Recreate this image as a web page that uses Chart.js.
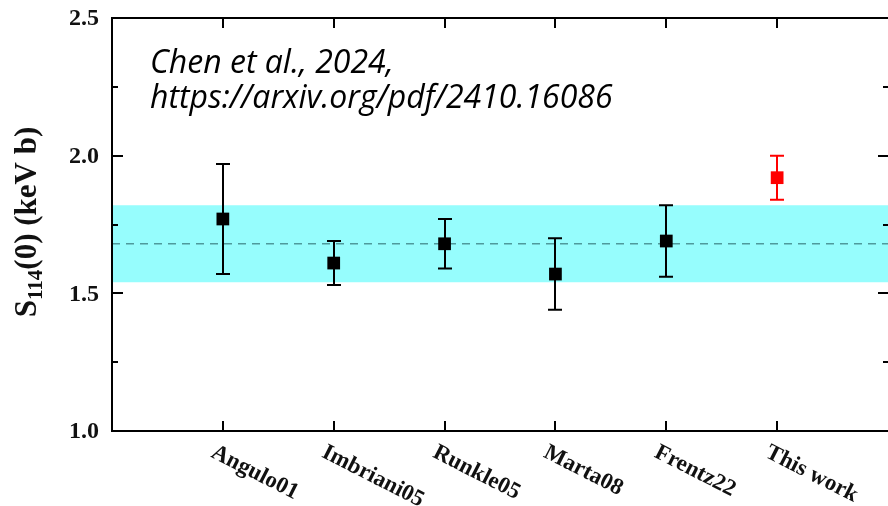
<!DOCTYPE html>
<html>
<head>
<meta charset="utf-8">
<script src="https://cdn.jsdelivr.net/npm/chart.js@4.4.1/dist/chart.umd.min.js"></script>
<style>
  html, body { margin: 0; padding: 0; background: #fff; }
  canvas { display: block; }
</style>
</head>
<body>
<canvas id="c" width="888" height="506"></canvas>
<script>
// Measurements of the astrophysical S-factor S114(0)
const categories = ['Angulo01', 'Imbriani05', 'Runkle05', 'Marta08', 'Frentz22', 'This work'];
const sValues    = [1.77, 1.61, 1.68, 1.57, 1.69, 1.92];
const errLow     = [1.57, 1.53, 1.59, 1.44, 1.56, 1.84];
const errHigh    = [1.97, 1.69, 1.77, 1.70, 1.82, 2.00];
const pointColors = ['#000000', '#000000', '#000000', '#000000', '#000000', '#ff0000'];

// Weighted mean and its uncertainty band
const bandLow = 1.54;
const bandHigh = 1.82;
const meanValue = 1.68;

// Axis ticks
const yMajorTicks = [1.0, 1.5, 2.0, 2.5];
const yMinorTicks = [1.25, 1.75, 2.25];
const yTickLabels = ['1.0', '1.5', '2.0', '2.5'];
const xRange = [0, categories.length + 1];

const noteLines = ['Chen et al., 2024,', 'https://arxiv.org/pdf/2410.16086'];

const xs = categories.map((_, i) => i + 1);
const points = xs.map((x, i) => ({ x: x, y: sValues[i] }));
const span = v => [{ x: xRange[0], y: v }, { x: xRange[1], y: v }];

const SERIF = '"Liberation Serif", "Times New Roman", serif';
const POINTS_INDEX = 3;

const whiteBg = {
  id: 'whiteBg',
  beforeDraw(chart) {
    const ctx = chart.ctx;
    ctx.save();
    ctx.fillStyle = '#ffffff';
    ctx.fillRect(0, 0, chart.width, chart.height);
    ctx.restore();
  }
};

// vertical error bars with caps, drawn just under the markers
const errorBars = {
  id: 'errorBars',
  beforeDatasetDraw(chart, args) {
    if (args.index !== POINTS_INDEX) return;
    const ctx = chart.ctx;
    const sx = chart.scales.x, sy = chart.scales.y;
    ctx.save();
    ctx.lineWidth = 2;
    xs.forEach((x, i) => {
      const px = Math.round(sx.getPixelForValue(x));
      const top = sy.getPixelForValue(errHigh[i]);
      const bot = sy.getPixelForValue(errLow[i]);
      ctx.strokeStyle = pointColors[i];
      ctx.beginPath();
      ctx.moveTo(px, top); ctx.lineTo(px, bot);
      ctx.moveTo(px - 7, top); ctx.lineTo(px + 7, top);
      ctx.moveTo(px - 7, bot); ctx.lineTo(px + 7, bot);
      ctx.stroke();
    });
    ctx.restore();
  }
};

const frame = {
  id: 'frame',
  afterDraw(chart) {
    const ctx = chart.ctx;
    const a = chart.chartArea;
    const sx = chart.scales.x, sy = chart.scales.y;
    ctx.save();
    ctx.strokeStyle = '#000';
    ctx.lineWidth = 2;
    ctx.lineCap = 'butt';
    // frame lines
    ctx.beginPath();
    ctx.moveTo(a.right, a.top); ctx.lineTo(a.left, a.top);
    ctx.lineTo(a.left, a.bottom); ctx.lineTo(a.right, a.bottom);
    ctx.stroke();
    // y ticks, left and right, pointing inward
    ctx.beginPath();
    yMajorTicks.forEach(v => {
      const py = Math.round(sy.getPixelForValue(v));
      ctx.moveTo(a.left, py); ctx.lineTo(a.left + 11, py);
      ctx.moveTo(a.right, py); ctx.lineTo(a.right - 10, py);
    });
    yMinorTicks.forEach(v => {
      const py = Math.round(sy.getPixelForValue(v));
      ctx.moveTo(a.left, py); ctx.lineTo(a.left + 6, py);
      ctx.moveTo(a.right, py); ctx.lineTo(a.right - 5, py);
    });
    // x ticks at each category, top and bottom
    xs.forEach(x => {
      const px = Math.round(sx.getPixelForValue(x));
      ctx.moveTo(px, a.bottom); ctx.lineTo(px, a.bottom - 10);
      ctx.moveTo(px, a.top); ctx.lineTo(px, a.top + 10);
    });
    ctx.stroke();

    // y tick labels
    ctx.fillStyle = '#111';
    ctx.font = 'bold 24px ' + SERIF;
    ctx.textAlign = 'right';
    ctx.textBaseline = 'middle';
    yMajorTicks.forEach((v, i) => {
      ctx.fillText(yTickLabels[i], a.left - 13, sy.getPixelForValue(v) + 1);
    });

    // category labels, slanted downwards
    ctx.font = 'bold 23px ' + SERIF;
    ctx.textAlign = 'left';
    ctx.textBaseline = 'top';
    xs.forEach((x, i) => {
      const px = sx.getPixelForValue(x);
      ctx.save();
      ctx.translate(px - 5, a.bottom + 10);
      ctx.rotate(27 * Math.PI / 180);
      ctx.fillText(categories[i], 0, 0);
      ctx.restore();
    });

    // y axis title: S_114(0) (keV b)
    ctx.save();
    ctx.translate(36, 222);
    ctx.rotate(-Math.PI / 2);
    ctx.textBaseline = 'alphabetic';
    ctx.textAlign = 'left';
    const big = 'bold 31px ' + SERIF, small = 'bold 21px ' + SERIF;
    ctx.font = big; const wS = ctx.measureText('S').width;
    ctx.font = small; const wSub = ctx.measureText('114').width;
    ctx.font = big; const wRest = ctx.measureText('(0) (keV b)').width;
    let cx = -(wS + wSub + wRest) / 2;
    ctx.font = big; ctx.fillText('S', cx, 0); cx += wS;
    ctx.font = small; ctx.fillText('114', cx, 6); cx += wSub;
    ctx.font = big; ctx.fillText('(0) (keV b)', cx, 0);
    ctx.restore();

    // citation note
    ctx.fillStyle = '#000';
    ctx.font = 'italic 32px "Open Sans", "Noto Sans", sans-serif';
    ctx.textAlign = 'left';
    ctx.textBaseline = 'alphabetic';
    ctx.fillText(noteLines[0], 150, 73);
    ctx.fillText(noteLines[1], 150, 108);
    ctx.restore();
  }
};

new Chart(document.getElementById('c'), {
  type: 'scatter',
  data: {
    datasets: [
      { data: span(bandHigh), showLine: true, borderWidth: 0, borderColor: 'rgba(0,0,0,0)', pointRadius: 0,
        fill: false, order: 3 },
      { data: span(bandLow), showLine: true, borderWidth: 0, borderColor: 'rgba(0,0,0,0)', pointRadius: 0,
        fill: '-1', backgroundColor: '#96fdfd', order: 2 },
      { data: span(meanValue), showLine: true, borderWidth: 1.5, borderColor: '#4e9a9c', borderDash: [8, 6],
        pointRadius: 0, fill: false, order: 1 },
      { data: points, showLine: false, pointStyle: 'rect', pointRadius: 9, pointBorderWidth: 0,
        pointBackgroundColor: pointColors, pointBorderColor: pointColors, order: 0 }
    ]
  },
  options: {
    responsive: false,
    devicePixelRatio: 1,
    animation: false,
    layout: { autoPadding: false, padding: { left: 112, top: 18, right: 0, bottom: 75 } },
    scales: {
      x: { type: 'linear', min: xRange[0], max: xRange[1], display: false },
      y: { type: 'linear', min: 1.0, max: 2.5, display: false }
    },
    plugins: { legend: { display: false }, tooltip: { enabled: false } }
  },
  plugins: [whiteBg, errorBars, frame]
});
</script>
</body>
</html>
